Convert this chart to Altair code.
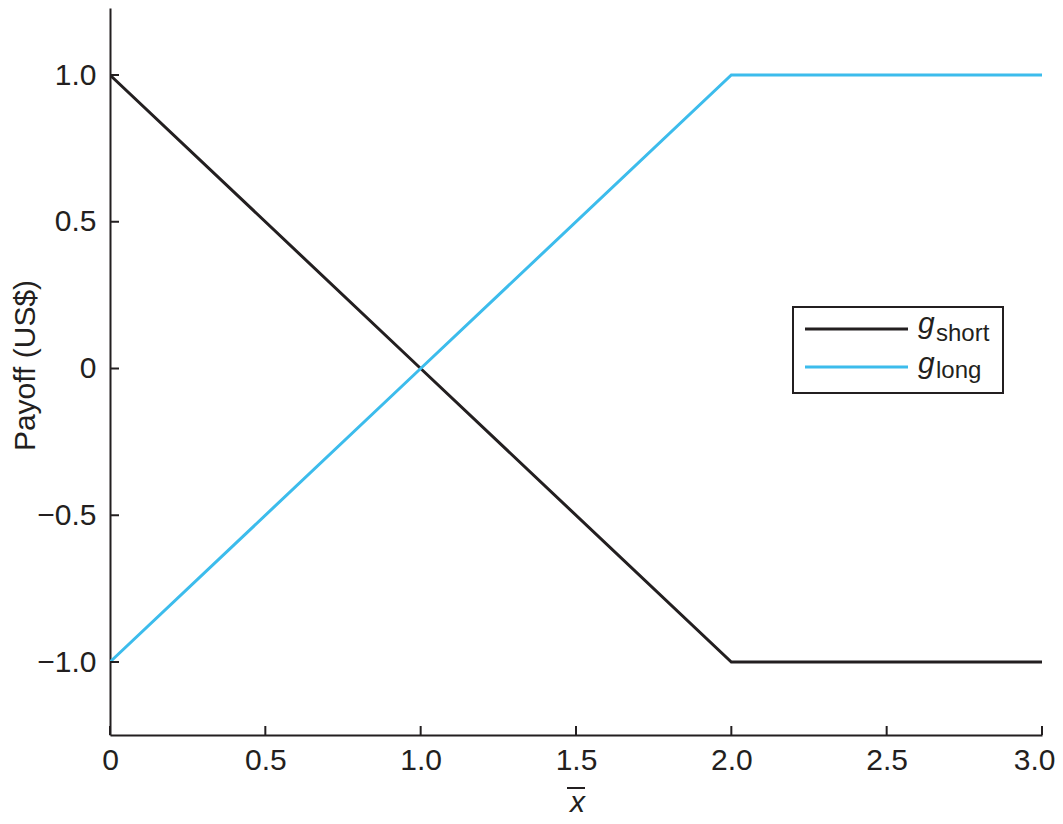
import altair as alt
import pandas as pd

# ---- data ----
x_vals = [0.0, 1.0, 2.0, 3.0]
g_short = [1.0, 0.0, -1.0, -1.0]
g_long = [-1.0, 0.0, 1.0, 1.0]
series_names = ["short", "long"]
series_colors = ["#231f20", "#3cbcec"]
x_ticks = [0.0, 0.5, 1.0, 1.5, 2.0, 2.5, 3.0]
y_ticks = [-1.0, -0.5, 0.0, 0.5, 1.0]

rows = []
for xv, s, l in zip(x_vals, g_short, g_long):
    rows.append({"x": xv, "y": s, "series": "short"})
    rows.append({"x": xv, "y": l, "series": "long"})
df = pd.DataFrame(rows)

W, H = 932, 727
FONT = "Liberation Sans"
INK = "#231f20"

xscale = alt.Scale(domain=[0, 3], nice=False, zero=False)
yscale = alt.Scale(domain=[-1.2487, 1.2283], nice=False, zero=False)

label_expr = "datum.value == 0 ? '0' : replace(format(datum.value, '.1f'), '-', '\u2212')"

lines = alt.Chart(df).mark_line(strokeWidth=3, clip=True).encode(
    x=alt.X("x:Q", scale=xscale,
            axis=alt.Axis(values=x_ticks, labelExpr=label_expr, ticks=False,
                          labelPadding=10, title="x", titleFontStyle="italic",
                          titleFontWeight="normal", titleFontSize=30,
                          titleX=467, titleY=76, titleAlign="center",
                          titleBaseline="alphabetic", labelFlush=False,
                          labelAlign={"condition": {"test": "datum.value == 3", "value": "right"},
                                      "value": "center"},
                          labelOffset={"condition": {"test": "datum.value == 3", "value": 13},
                                       "value": 0})),
    y=alt.Y("y:Q", scale=yscale,
            axis=alt.Axis(values=y_ticks, labelExpr=label_expr, ticks=False,
                          labelPadding=14, title="Payoff (US$)",
                          titleFontWeight="normal", titleFontSize=30,
                          titleAngle=-90, titleX=-85, titleY=357,
                          titleAlign="center", titleBaseline="middle")),
    color=alt.Color("series:N", scale=alt.Scale(domain=series_names, range=series_colors),
                    legend=None),
    detail="series:N",
)

xt = alt.Chart(pd.DataFrame({"t": x_ticks})).mark_rule(color=INK, strokeWidth=2).encode(
    x=alt.X("t:Q", scale=xscale), y=alt.value(H), y2=alt.value(H - 9))
yt = alt.Chart(pd.DataFrame({"t": y_ticks})).mark_rule(color=INK, strokeWidth=2).encode(
    y=alt.Y("t:Q", scale=yscale), x=alt.value(0), x2=alt.value(9))

# overline for x-bar
bar = alt.Chart(pd.DataFrame({"a": [0]})).mark_rule(color=INK, strokeWidth=2).encode(
    x=alt.value(457), x2=alt.value(475), y=alt.value(H + 53))

# legend box
base1 = alt.Chart(pd.DataFrame({"a": [0]}))
legend_box = base1.mark_rect(fill="white", stroke=INK, strokeWidth=2).encode(
    x=alt.value(683), x2=alt.value(893), y=alt.value(299), y2=alt.value(385))

legend_layers = [legend_box]
line_ys = [321, 359]
g_base = [325, 365]
sub_base = [333, 370]
for i, (name, col) in enumerate(zip(series_names, series_colors)):
    legend_layers.append(base1.mark_rule(color=col, strokeWidth=3).encode(
        x=alt.value(695), x2=alt.value(798), y=alt.value(line_ys[i])))
    legend_layers.append(base1.mark_text(text="g", font=FONT, fontSize=30, fontStyle="italic",
                                         align="left", baseline="alphabetic", color=INK).encode(
        x=alt.value(808), y=alt.value(g_base[i])))
    legend_layers.append(base1.mark_text(text=name, font=FONT, fontSize=24,
                                         align="left", baseline="alphabetic", color=INK).encode(
        x=alt.value(826), y=alt.value(sub_base[i])))

chart = alt.layer(lines, xt, yt, bar, *legend_layers).properties(
    width=W, height=H,
    autosize=alt.AutoSizeParams(type="none"),
    padding={"left": 102, "top": 0, "right": 13, "bottom": 82},
).configure_view(stroke=None).configure_axis(
    grid=False, domainColor=INK, domainWidth=2, labelFont=FONT, titleFont=FONT,
    labelFontSize=30, labelColor=INK, titleColor=INK,
)

chart.save("out.html", embed_options={"renderer": "svg", "actions": False})
